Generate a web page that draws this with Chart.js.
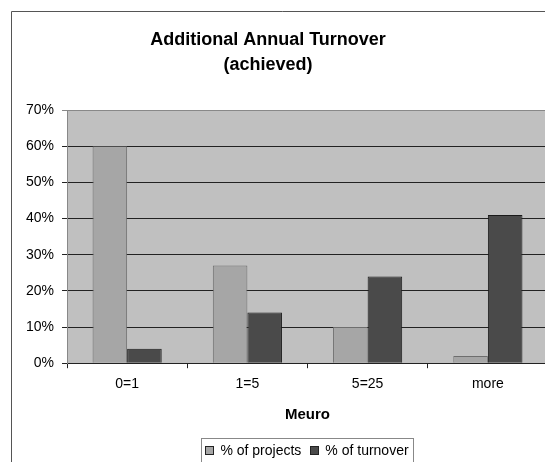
<!DOCTYPE html>
<html>
<head>
<meta charset="utf-8">
<script src="https://cdn.jsdelivr.net/npm/chart.js@4/dist/chart.umd.min.js"></script>
<style>
  html, body { margin: 0; padding: 0; background: #fff; overflow: hidden; }
  canvas { display: block; }
</style>
</head>
<body>
<canvas id="turnover" width="552" height="462"></canvas>
<script>
var categories = ['0=1', '1=5', '5=25', 'more'];
var projects = [60, 27, 10, 2];
var turnover = [4, 14, 24, 41];
var seriesNames = ['% of projects', '% of turnover'];
var titleLines = ['Additional Annual Turnover', '(achieved)'];
var axisTitle = 'Meuro';

var FONT = '"Liberation Sans", Arial, sans-serif';

// grey plot area, outer frame, title and boxed legend (excel look)
var excelLook = {
    id: 'excelLook',
    beforeDraw: function(chart) {
        var c = chart.ctx, a = chart.chartArea;
        c.save();
        c.fillStyle = '#c0c0c0';
        c.fillRect(a.left, a.top, a.right - a.left, a.bottom - a.top);
        c.restore();
    },
    afterDraw: function(chart) {
        var c = chart.ctx, a = chart.chartArea;
        c.save();
        // outer frame
        c.strokeStyle = '#555';
        c.lineWidth = 1;
        c.beginPath();
        c.moveTo(11.5, 600); c.lineTo(11.5, 11.5); c.lineTo(600, 11.5);
        c.stroke();

        // title
        c.fillStyle = '#000';
        c.font = 'bold 18px ' + FONT;
        c.textAlign = 'center';
        c.textBaseline = 'middle';
        c.fillText(titleLines[0], 268, 40);
        c.fillText(titleLines[1], 268, 65);

        // legend
        var ds = chart.data.datasets;
        c.font = '14px ' + FONT;
        c.textAlign = 'left';
        var box = 8, gap = 7, itemGap = 9, pad = 4;
        var w = pad;
        ds.forEach(function(d, i) {
            w += box + gap + c.measureText(d.label).width + (i < ds.length - 1 ? itemGap : pad + 1);
        });
        var x = (a.left + a.right) / 2 - w / 2, y = 438, cy = 450;
        c.strokeStyle = '#888';
        c.strokeRect(Math.round(x) + 0.5, y + 0.5, Math.round(w), 40);
        var px = x + pad;
        ds.forEach(function(d, i) {
            c.fillStyle = d.backgroundColor;
            c.fillRect(Math.round(px) + 0.5, cy - box / 2 + 0.5, box, box);
            c.strokeStyle = '#222';
            c.strokeRect(Math.round(px) + 0.5, cy - box / 2 + 0.5, box, box);
            px += box + gap;
            c.fillStyle = '#000';
            c.fillText(d.label, px, cy + 1);
            px += c.measureText(d.label).width + itemGap;
        });
        c.restore();
    }
};

new Chart(document.getElementById('turnover').getContext('2d'), {
    type: 'bar',
    data: {
        labels: categories,
        datasets: [
            {
                label: seriesNames[0],
                data: projects,
                backgroundColor: '#a6a6a6',
                borderColor: '#6e6e6e',
                borderWidth: 1
            },
            {
                label: seriesNames[1],
                data: turnover,
                backgroundColor: '#4a4a4a',
                borderColor: '#1a1a1a',
                borderWidth: 1
            }
        ]
    },
    options: {
        responsive: false,
        animation: false,
        layout: { padding: { left: 18, right: 4, top: 110, bottom: 38 } },
        datasets: { bar: { categoryPercentage: 0.575, barPercentage: 1 } },
        plugins: {
            legend: { display: false },
            title: { display: false },
            tooltip: { enabled: false }
        },
        scales: {
            x: {
                offset: true,
                grid: { offset: true, drawOnChartArea: false, drawTicks: true, tickLength: 5, color: '#222' },
                border: { color: '#222' },
                ticks: { color: '#000', font: { family: FONT, size: 14 }, padding: 8 },
                title: { display: true, text: axisTitle, color: '#000',
                         font: { family: FONT, size: 15, weight: 'bold' }, padding: { top: 5, bottom: 0 } }
            },
            y: {
                min: 0,
                max: 70,
                grid: {
                    tickLength: 5,
                    color: function(ctx) { return ctx.tick && ctx.tick.value === 70 ? '#888' : '#222'; }
                },
                border: { color: '#888' },
                ticks: {
                    stepSize: 10,
                    color: '#000',
                    padding: 8,
                    font: { family: FONT, size: 14 },
                    callback: function(v) { return v + '%'; }
                }
            }
        }
    },
    plugins: [excelLook]
});
</script>
</body>
</html>
